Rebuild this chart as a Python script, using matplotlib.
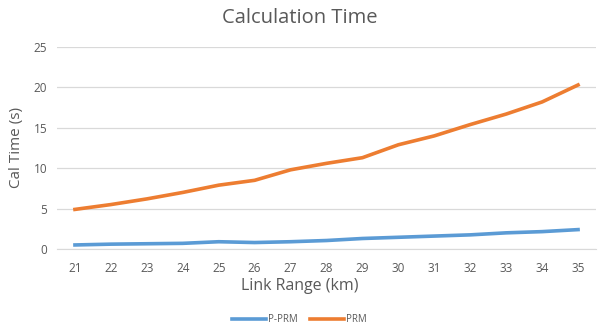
import numpy as np
import matplotlib.pyplot as plt

plt.rcParams['font.family'] = ['Open Sans', 'DejaVu Sans']

link_range = [21, 22, 23, 24, 25, 26, 27, 28, 29, 30, 31, 32, 33, 34, 35]
p_prm = [0.5, 0.6, 0.65, 0.7, 0.9, 0.8, 0.9, 1.05, 1.3, 1.45, 1.6, 1.75, 2.0, 2.15, 2.4]
prm = [4.9, 5.5, 6.2, 7.0, 7.9, 8.5, 9.8, 10.6, 11.3, 12.9, 14.0, 15.4, 16.7, 18.2, 20.3]

grey = '#595959'
fig = plt.figure(figsize=(5.99, 3.28), dpi=100)
ax = fig.add_axes([57 / 599, 1 - 249 / 328, 539 / 599, 202 / 328])

x = np.arange(len(link_range))
ax.plot(x, p_prm, color='#5B9BD5', lw=2.6, label='P-PRM')
ax.plot(x, prm, color='#ED7D31', lw=2.6, label='PRM')

ax.set_xlim(-0.5, len(link_range) - 0.5)
ax.set_ylim(0, 25)
ax.set_yticks([0, 5, 10, 15, 20, 25])
ax.set_xticks(x)
ax.set_xticklabels([str(v) for v in link_range])
ax.grid(axis='y', color='#D9D9D9', lw=0.9)
ax.set_axisbelow(True)
for s in ['top', 'right', 'left']:
    ax.spines[s].set_visible(False)
ax.spines['bottom'].set_color('#D9D9D9')
ax.tick_params(length=0, colors=grey, labelsize=8.5)
ax.tick_params(axis='x', pad=9)
ax.tick_params(axis='y', pad=7)

fig.text(0.5, 1 - 18 / 328, 'Calculation Time', ha='center', va='center',
         fontsize=14.5, color=grey)
fig.text(17 / 599, 1 - 148 / 328, 'Cal Time (s)', rotation=90, ha='center',
         va='center', fontsize=11, color=grey)
fig.text(0.5, 1 - 286 / 328, 'Link Range (km)', ha='center', va='center',
         fontsize=11.5, color=grey)
fig.legend(loc='center', bbox_to_anchor=(0.5, 1 - 320 / 328), ncol=2,
           frameon=False, fontsize=7, labelcolor=grey, handlelength=3.5,
           handletextpad=0.2, columnspacing=1.2)

fig.savefig('out.png', dpi=100)
